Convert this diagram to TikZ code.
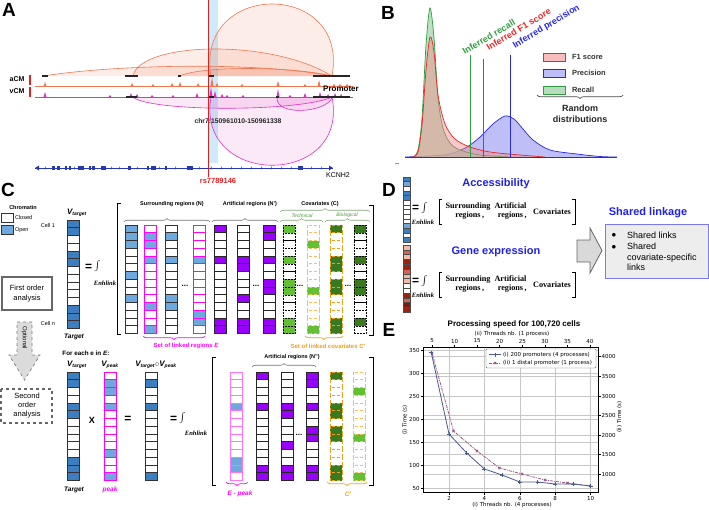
\documentclass[tikz,border=0pt]{standalone}
\usepackage{fontspec}
\setmainfont{Liberation Sans}
\newfontfamily\lserif{Liberation Serif}
\newfontfamily\dvs{DejaVu Sans}
\usetikzlibrary{decorations.pathreplacing}
\definecolor{acm}{HTML}{F07850}
\definecolor{vcm}{HTML}{E030C0}
\definecolor{genebl}{HTML}{2838B0}
\definecolor{bandbl}{HTML}{CDEBFA}
\definecolor{snp}{HTML}{E02020}
\definecolor{recg}{HTML}{2E9E40}
\definecolor{f1r}{HTML}{E82828}
\definecolor{prb}{HTML}{2828E8}
\definecolor{openbl}{HTML}{6FA8DC}
\definecolor{tgtbl}{HTML}{3D7EC0}
\definecolor{magb}{HTML}{FF00FF}
\definecolor{purp}{HTML}{9900FF}
\definecolor{lgreen}{HTML}{62C032}
\definecolor{dgreen}{HTML}{3A7A1E}
\definecolor{orng}{HTML}{F0A020}
\definecolor{yorng}{HTML}{F8C050}
\definecolor{capblue}{HTML}{2020E8}
\definecolor{seri}{HTML}{4A5A8C}
\definecolor{serii}{HTML}{9A5A8A}
\definecolor{covg}{HTML}{4A9A3A}
\definecolor{rd1}{HTML}{F2B8A8}
\definecolor{rd2}{HTML}{D86050}
\definecolor{rd3}{HTML}{A02010}
\definecolor{rd4}{HTML}{7A1A10}
\newcommand{\fs}[2]{\fontsize{#1}{#2}\selectfont}
\newcommand{\cellcol}[5]{%
  \foreach \v [count=\i from 0] in {#5} {%
    \ifnum\v=1 \def\fc{#4}\else\def\fc{white}\fi
    \draw[#3, fill=\fc] (#1,{#2+\i*7.75}) rectangle ++(12,7.75);
  }}
\tikzset{
 lbl/.style={font=\fs{19}{19}\bfseries},
 gcol/.style={draw=black!80, line width=0.55pt},
 mcol/.style={draw=magb, line width=0.9pt},
 lmcol/.style={draw=magb!55, line width=0.9pt},
 pcol/.style={draw=black!85, line width=0.55pt},
 dcol/.style={draw=black, densely dotted, line width=0.5pt},
 ocol/.style={draw=orng, densely dashed, line width=0.7pt},
 ycol/.style={draw=yorng, densely dashed, line width=0.7pt},
 brup/.style={decorate, decoration={brace, amplitude=3.5pt}, line width=0.6pt},
 brdn/.style={decorate, decoration={brace, mirror, amplitude=3.5pt}, line width=0.7pt},
 gridc/.style={draw=black!22, line width=0.5pt},
 arcfa/.style={fill=acm, fill opacity=0.13},
 arcfv/.style={fill=vcm, fill opacity=0.10},
 hdr/.style={font=\fs{5.5}{6}\bfseries},
 small/.style={font=\fs{5.5}{6}},
 enh/.style={font=\lserif\fs{6.5}{7}\bfseries\itshape},
 eqint/.style={font=\fs{12}{12}\bfseries},
 chart/.style={font=\dvs\fs{5.5}{6}},
 dtxt/.style={font=\lserif\fs{8.2}{9}\bfseries, align=center},
 infl/.style={font=\fs{9}{9}\bfseries, rotate=31, anchor=south west},
}
\begin{document}
\begin{tikzpicture}[x=1pt,y=-1pt,every node/.style={inner sep=0pt,outer sep=0pt}]
\useasboundingbox (0,0) rectangle (709,509);
\fill[white] (0,0) rectangle (709,509);

%%%%%%%%%%%%%%%% Panel A
\node[lbl] (labA) at (9,10) {A};
\fill[bandbl] (209,0) rectangle (218,163);
% aCM arcs (up)
\path[arcfa] (43,76) .. controls (120,64) and (260,62) .. (332,76) -- cycle;
\draw[acm, line width=0.6pt] (43,76) .. controls (120,64) and (260,62) .. (332,76);
\path[arcfa] (133,76) .. controls (140,42) and (270,38) .. (332,76) -- cycle;
\draw[acm, line width=0.6pt] (133,76) .. controls (140,42) and (270,38) .. (332,76);
\path[arcfa] (180,76) .. controls (200,66) and (290,66) .. (332,76) -- cycle;
\draw[acm, line width=0.6pt] (180,76) .. controls (200,66) and (290,66) .. (332,76);
\path[arcfa] (211,76) .. controls (195,-20) and (350,-20) .. (332,76) -- cycle;
\draw[acm, line width=0.6pt] (211,76) .. controls (195,-20) and (350,-20) .. (332,76);
% vCM arcs (down)
\path[arcfv] (133,97) .. controls (150,112) and (300,112) .. (332,97) -- cycle;
\draw[vcm, line width=0.6pt] (133,97) .. controls (150,112) and (300,112) .. (332,97);
\path[arcfv] (277,98) .. controls (276,116) and (325,113) .. (332,98) -- cycle;
\draw[vcm, line width=0.6pt] (277,98) .. controls (276,116) and (325,113) .. (332,98);
\path[arcfv] (211,97) .. controls (195,188) and (350,188) .. (332,97) -- cycle;
\draw[vcm, line width=0.6pt] (211,97) .. controls (195,188) and (350,188) .. (332,97);
% tracks
\draw[acm, line width=0.6pt] (35,86) -- (353,86);
\foreach \px/\ph in {45/4,132/3,153/2,172/3,180/4,198/3,212/9,217/3,242/2,278/5,305/2,319/6,334/2,340/2,347/2}
  \fill[acm] (\px-1.5,86) -- (\px,86-\ph) -- (\px+1.5,86) -- cycle;
\draw[vcm, line width=0.6pt] (35,97) -- (353,97);
\foreach \px/\ph in {45/5,110/2,131/4,137/3,152/2,173/2,197/4,211/10,215/6,222/3,227/2,243/2,278/8,290/2,305/4,320/5,328/3,335/4,341/3}
  \fill[vcm] (\px-1.5,97) -- (\px,97-\ph) -- (\px+1.5,97) -- cycle;
\foreach \a/\b in {42/48,125/138,178/181,209/214,313/350}
  \draw[black!85, line width=2pt] (\a,76) -- (\b,76);
\foreach \a/\b in {126/137,208/214,276/279,313/350}
  \draw[black!85, line width=2pt] (\a,97) -- (\b,97);
\draw[snp, line width=2pt] (30,75) -- (30,85);
\draw[snp, line width=2pt] (30,87) -- (30,97);
\node[font=\fs{7}{7}\bfseries] (acmL) at (17,79) {aCM};
\node[font=\fs{7}{7}\bfseries] (vcmL) at (17,91) {vCM};
\node[font=\fs{8}{8}\bfseries] (prom) at (341,89) {Promoter};
\node[font=\fs{6.8}{7}\bfseries, text=black!85] (chr) at (238,121) {chr7:150961010-150961338};
% gene track
\draw[genebl, line width=0.8pt] (35,168) -- (333,168);
\foreach \a/\b in {52/55,57/60,65/67,69/71,78/84,89/91,92/95,101/106,128/131,147/149,151/156,165/167,187/193,298/303}
  \fill[genebl] (\a,166) rectangle (\b,170);
\fill[genebl] (35,168) -- (39,165.5) -- (39,170.5) -- cycle;
\fill[genebl] (333,168) -- (329,165.5) -- (329,170.5) -- cycle;
\foreach \x in {46,75,112,120,138,160,176,200,212,222,232,242,252,262,272,282,292,312,322}
  \draw[genebl, line width=0.4pt] (\x-1,166.6) -- (\x,168) -- (\x-1,169.4);
\node[font=\fs{7}{7}] (kcnh) at (338,175) {KCNH2};
\draw[black!40, line width=0.5pt] (395,163) -- (399,163);
\draw[snp, line width=0.8pt] (208.3,0) -- (208.3,177);
\node[font=\fs{7.5}{7.5}\bfseries, text=snp] (rs) at (218,181) {rs7789146};

%%%%%%%%%%%%%%%% Panel B
\node[lbl] (labB) at (388,13) {B};
\filldraw[draw=prb, line width=0.7pt, fill=prb!35, fill opacity=0.85] plot[smooth] coordinates {(405,157) (430,156) (450,154) (467,147) (480,137) (493,124) (505,116) (514,119) (523,129) (533,140) (550,150) (577,154) (600,156.5) (617,157)};
\filldraw[draw=recg, line width=0.7pt, fill=recg!45, fill opacity=0.7] plot[smooth] coordinates {(413,157) (418,150) (422,118) (426,45) (430,8) (434,38) (438,98) (443,128) (450,143) (460,150) (480,155) (510,157)};
\filldraw[draw=f1r, line width=0.7pt, fill=f1r!55, fill opacity=0.45] plot[smooth] coordinates {(413,157) (418,152) (422,125) (426,70) (430,37) (434,52) (438,95) (445,124) (455,139) (470,147) (490,152) (520,155) (545,157)};
\draw[prb, line width=0.8pt] (405,157) -- (617,157);
\draw[recg, line width=1pt] (470,55) -- (470,157);
\draw[f1r, line width=1pt] (483,59) -- (483,157);
\draw[prb, line width=1pt] (510,55) -- (510,157);
\node[infl, text=recg] (infr) at (465,55) {Inferred recall};
\node[infl, text=f1r] (inff) at (489,51) {Inferred F1 score};
\node[infl, text=prb] (infp) at (516,50) {Inferred precision};
\filldraw[draw=f1r, fill=f1r!30, line width=0.6pt] (543,53) rectangle (565,61);
\filldraw[draw=prb, fill=prb!30, line width=0.6pt] (543,69) rectangle (565,77);
\filldraw[draw=recg, fill=recg!35, line width=0.6pt] (543,86) rectangle (565,94);
\node[font=\fs{7.5}{7.5}\bfseries, text=black!80, anchor=west] (lgf) at (572,57) {F1 score};
\node[font=\fs{7.5}{7.5}\bfseries, text=black!80, anchor=west] (lgp) at (572,73) {Precision};
\node[font=\fs{7.5}{7.5}\bfseries, text=black!80, anchor=west] (lgr) at (572,90) {Recall};
\draw[brdn, black!70] (537,95) -- (623,95);
\node[font=\fs{9}{10.5}\bfseries, align=center, text=black!85] (rnd) at (580,114) {Random\\distributions};

%%%%%%%%%%%%%%%% Panel C
\node[lbl] (labC) at (8,190) {C};
\node[font=\fs{5.5}{6}\bfseries] (chrom) at (23,208) {Chromatin};
\draw[black!80, fill=white, line width=0.6pt] (1,213) rectangle (13,222);
\draw[black!80, fill=openbl, line width=0.6pt] (1,225) rectangle (13,234);
\node[small, anchor=west] (clsd) at (15,218) {Closed};
\node[small, anchor=west] (opn) at (15,230) {Open};
\draw[black!60, line width=1.2pt] (2,277) rectangle (52,310);
\node[font=\fs{7.5}{10}, align=center] (fo) at (27,293.5) {First order\\analysis};
\filldraw[black!50, fill=black!14, dashed, line width=0.7pt] (17,322) -- (32,322) -- (32,355) -- (40,355) -- (24.5,380) -- (9,355) -- (17,355) -- cycle;
\node[font=\fs{6}{6}, rotate=-90] (optn) at (24.5,338) {Optional};
\draw[black!60, dashed, line width=1.2pt] (1,389) rectangle (52,423);
\node[font=\fs{7.5}{9}, align=center] (so) at (27,406) {Second\\order\\analysis};

% top section
\node[font=\fs{8}{8}\bfseries\itshape] (vt1) at (77,213) {V\textsubscript{\fs{5}{5}target}};
\node[small] (c1) at (48,226) {Cell 1};
\node[small] (cn) at (48,324) {Cell n};
\cellcol{67}{220}{gcol}{tgtbl}{1,1,0,0,1,1,0,0,0,0,0,1,1,1}
\node[font=\fs{6.5}{6.5}\bfseries\itshape] (tg1) at (74,337) {Target};
\node[eqint] (eq1) at (93,266) {=\,{\fs{16}{16}$\int$}};
\node[enh] (en1) at (105,283) {Enhlink};
\draw[line width=1pt] (121,203) -- (117,203) -- (117,334) -- (121,334);
\draw[line width=1pt] (369,205) -- (373,205) -- (373,335) -- (369,335);
\node[hdr] (hs) at (172,204) {Surrounding regions (N)};
\node[hdr] (ha) at (250,204) {Artificial regions (N')};
\node[hdr] (hc) at (320,204) {Covariates (C)};
\draw[brup, black!55] (124,222) -- (210,222);
\draw[brup, black!55] (212,222) -- (278,222);
\draw[brup, covg!70!black!60] (280,212) -- (370,212);
\draw[brup, covg!70!black!60] (280,222) -- (323,222);
\draw[brup, covg!70!black!60] (325,222) -- (370,222);
\node[font=\fs{5}{5}\itshape, text=covg] (tech) at (302,215.5) {Technical};
\node[font=\fs{5}{5}\itshape, text=covg] (bio) at (347,215.5) {Biological};
\cellcol{125}{225}{gcol}{openbl}{1,1,1,0,0,0,1,0,0,1,0,0,0,0}
\cellcol{144}{225}{mcol}{openbl}{0,1,1,0,1,0,0,0,0,0,1,0,0,1}
\cellcol{165}{225}{gcol}{openbl}{0,1,0,0,1,0,0,0,0,1,1,0,0,0}
\cellcol{193}{225}{mcol}{openbl}{0,0,0,0,1,0,0,0,0,0,0,1,1,0}
\cellcol{214}{225}{pcol}{purp}{1,0,0,0,1,0,0,0,0,0,0,0,1,1}
\cellcol{237}{225}{pcol}{purp}{0,0,0,0,1,1,0,0,0,1,0,0,1,1}
\cellcol{263}{225}{pcol}{purp}{1,1,0,0,1,0,0,1,1,0,0,0,1,1}
\cellcol{283}{225}{dcol}{lgreen}{1,0,0,0,1,0,0,1,1,0,0,0,1,1}
\cellcol{307}{225}{ycol}{lgreen}{0,0,1,0,0,0,0,0,1,0,0,0,0,1}
\cellcol{330}{225}{ocol}{dgreen}{1,0,0,0,1,1,0,1,1,0,0,0,1,1}
\cellcol{354}{225}{dcol}{dgreen}{1,0,0,0,1,0,0,1,1,0,0,0,1,0}
\foreach \dx [count=\k] in {185,256,300,348} \node[font=\fs{8}{8}\bfseries] (dots\k) at (\dx,286) {...};
\draw[brdn, magb] (143,336) -- (205,336);
\node[font=\fs{6}{6}\bfseries, text=magb] (sler) at (186,346) {Set of linked regions \textit{E}};
\draw[brdn, orng] (305,336) -- (343,336);
\node[font=\fs{6}{6}\bfseries, text=orng] (slcv) at (328,346) {Set of linked covariates \textit{C'}};

% bottom section
\node[font=\fs{6.3}{6.3}\bfseries] (fe) at (86,353.5) {For each e in \textit{E}:};
\node[font=\fs{8}{8}\bfseries\itshape] (vt2) at (77,365) {V\textsubscript{\fs{5}{5}target}};
\node[font=\fs{8}{8}\bfseries\itshape] (vp2) at (110,365) {V\textsubscript{\fs{5}{5}peak}};
\node[font=\fs{8}{8}\bfseries\itshape] (vtp) at (156,365) {V\textsubscript{\fs{5}{5}target}$\circ$V\textsubscript{\fs{5}{5}peak}};
\cellcol{67}{372}{gcol}{tgtbl}{1,1,0,0,1,1,0,0,0,0,0,1,1,1}
\cellcol{104}{372}{mcol}{openbl}{0,1,1,0,1,0,0,0,0,0,1,0,0,1}
\cellcol{145}{372}{gcol}{tgtbl}{0,1,0,0,1,0,0,0,0,0,0,0,0,1}
\node[font=\fs{9}{9}\bfseries] (xx) at (92,420) {X};
\node[font=\fs{12}{12}\bfseries] (eqb) at (128,419) {=};
\node[eqint] (eq2) at (178,418) {=\,{\fs{16}{16}$\int$}};
\node[enh] (en2) at (196,433) {Enhlink};
\node[font=\fs{6.5}{6.5}\bfseries\itshape] (tg2) at (74,490) {Target};
\node[font=\fs{6.5}{6.5}\bfseries\itshape, text=magb] (pk2) at (110,490) {peak};
\draw[line width=1pt] (216,357) -- (212,357) -- (212,485) -- (216,485);
\draw[line width=1pt] (369,357) -- (373,357) -- (373,485) -- (369,485);
\node[hdr] (ha2) at (292,357) {Artificial regions (N'')};
\draw[brup, black!55] (252,367) -- (316,367);
\cellcol{230}{372}{lmcol}{openbl}{0,0,0,0,1,0,0,0,0,0,0,1,1,0}
\cellcol{256}{372}{pcol}{purp}{1,0,0,0,1,0,0,0,0,0,0,0,1,1}
\cellcol{281}{372}{pcol}{purp}{0,0,0,0,1,1,0,0,0,1,0,0,1,1}
\cellcol{306}{372}{pcol}{purp}{1,1,0,0,1,0,0,1,1,0,0,0,1,1}
\cellcol{330}{372}{ocol}{dgreen}{1,0,0,0,1,1,0,1,1,0,0,0,1,1}
\cellcol{353}{372}{ycol}{lgreen}{0,0,1,0,0,0,0,0,1,0,0,0,0,1}
\node[font=\fs{8}{8}\bfseries] (dots5) at (299,435) {...};
\draw[brdn, magb] (226,482) -- (248,482);
\node[font=\fs{6.5}{6.5}\bfseries\itshape, text=magb] (ep) at (240,494) {E - peak};
\draw[brdn, orng] (327,482) -- (367,482);
\node[font=\fs{6.5}{6.5}\bfseries\itshape, text=orng] (cp) at (348,494) {C'};

%%%%%%%%%%%%%%%% Panel D
\node[lbl] (labD) at (389,190) {D};
\foreach \c [count=\i from 0] in {tgtbl,openbl,white,tgtbl,tgtbl,white,white,white,white,white,openbl,tgtbl,white,tgtbl}
  \draw[black!70, fill=\c, line width=0.3pt] (403,{177+\i*4.64}) rectangle ++(7,4.64);
\foreach \c [count=\i from 0] in {rd1,rd2,rd1,rd3,rd3,rd2,rd1,rd1,white,white,rd3,rd2,rd4,rd3}
  \draw[black!70, fill=\c, line width=0.3pt] (403,{245+\i*4.79}) rectangle ++(7,4.79);
\foreach \dy [count=\k] in {0,73} {
  \node[eqint] (deq\k) at (420,{208+\dy}) {=\,{\fs{15}{15}$\int$}};
  \node[enh] (den\k) at (423,{222+\dy}) {Enhlink};
  \draw[line width=0.8pt] (442,{199+\dy}) -- (439,{199+\dy}) -- (439,{224+\dy}) -- (442,{224+\dy});
  \draw[line width=0.8pt] (572,{199+\dy}) -- (575,{199+\dy}) -- (575,{224+\dy}) -- (572,{224+\dy});
  \node[dtxt] (dsr\k) at (468,{211.5+\dy}) {Surrounding\\regions\rlap{\,,}};
  \node[dtxt] (dar\k) at (510.5,{211.5+\dy}) {Artificial\\regions\rlap{\,,}};
  \node[dtxt] (dcv\k) at (552,{212+\dy}) {Covariates};
}
\node[font=\fs{11}{11}\bfseries, text=capblue] (acc) at (496,184) {Accessibility};
\node[font=\fs{11}{11}\bfseries, text=capblue] (gex) at (496,252) {Gene expression};
\filldraw[draw=black!60, fill=black!15, line width=0.8pt] (577,240) -- (590,240) -- (590,228) -- (602,250.5) -- (590,273) -- (590,262) -- (577,262) -- cycle;
\node[font=\fs{11}{11}\bfseries, text=capblue] (shl) at (648,213) {Shared linkage};
\filldraw[draw=capblue!60, fill=black!7, line width=0.9pt] (605,224) rectangle (708,278);
\node[font=\fs{9}{9}] (b1) at (614,235) {$\bullet$};
\node[font=\fs{9}{9}] (b2) at (614,247) {$\bullet$};
\node[font=\fs{9}{9}, anchor=west] (sl1) at (627,235) {Shared links};
\node[font=\fs{9}{10.7}, anchor=north west, align=left] (sl2) at (627,243) {Shared\\covariate-specific\\links};

%%%%%%%%%%%%%%%% Panel E
\node[lbl] (labE) at (389,330) {E};
\node[font=\fs{8}{8}\bfseries] (ptitle) at (514,324) {Processing speed for 100,720 cells};
\foreach \yy in {350,373,396,419,442,465,488} \draw[gridc] (423,\yy) -- (598,\yy);
\foreach \yy in {356,376,396,415,435,454.5,474} \draw[gridc] (423,\yy) -- (598,\yy);
\foreach \xx in {449,484.4,519.8,555.2,590.6} \draw[gridc] (\xx,347) -- (\xx,492);
\draw[black, line width=0.6pt] (423,347) rectangle (598,492);
\foreach \yy/\lab in {350/350,373/300,396/250,419/200,442/150,465/100,488/50} {
  \draw[line width=0.5pt] (423,\yy) -- (420.5,\yy);
  \node[chart, anchor=east] (yl\lab) at (419.5,\yy) {\lab};
}
\foreach \yy/\lab in {356/4000,376/3500,396/3000,415/2500,435/2000,454.5/1500,474/1000} {
  \draw[line width=0.5pt] (598,\yy) -- (600.5,\yy);
  \node[chart, anchor=west] (yr\lab) at (601.5,\yy) {\lab};
}
\foreach \v in {2,4,6,8,10} {
  \pgfmathsetmacro\xx{449+(\v-2)*17.7}
  \draw[line width=0.5pt] (\xx,492) -- (\xx,494.5);
  \node[chart] (xb\v) at (\xx,498.5) {\v};
}
\foreach \v in {5,10,...,40} {
  \pgfmathsetmacro\xx{432+(\v-5)*4.514}
  \draw[line width=0.5pt] (\xx,347) -- (\xx,344.5);
  \node[chart] (xt\v) at (\xx,341) {\v};
}
\node[chart] (xtl) at (512,334) {(ii) Threads nb. (1 process)};
\node[chart] (xbl) at (512,505) {(i) Threads nb. (4 processes)};
\node[chart, rotate=90] (yll) at (405,420) {(i) Time (s)};
\node[chart, rotate=90] (yrl) at (619.5,417) {(ii) Time (s)};
\draw[serii, line width=0.8pt, dash pattern=on 3pt off 1pt on 1pt off 1pt] plot[mark=x, mark size=1.6pt, mark options={solid}] coordinates {(432,353) (453.5,431) (477,451) (499.5,468) (522,474) (545,480) (567.5,483) (590,486)};
\draw[seri, line width=0.8pt] plot[mark=+, mark size=2pt] coordinates {(431.3,352.7) (449,434) (466.7,453) (484.4,469) (502.1,475) (519.8,482) (537.5,482) (555.2,484) (572.9,484) (590.6,486)};
\draw[black!60, fill=white, rounded corners=1pt, line width=0.4pt] (486,349) rectangle (596,368);
\draw[seri, line width=0.8pt] (489,354.5) -- (501,354.5);
\draw[seri, line width=0.8pt] plot[only marks, mark=+, mark size=2pt] coordinates {(495,354.5)};
\draw[serii, line width=0.8pt, dash pattern=on 3pt off 1pt on 1pt off 1pt] (489,363) -- (501,363);
\draw[serii, line width=0.8pt] plot[only marks, mark=x, mark size=1.6pt] coordinates {(495,363)};
\node[chart, anchor=west] (lg1) at (503,354.5) {(i) 200 promoters (4 processes)};
\node[chart, anchor=west] (lg2) at (503,363) {(ii) 1 distal promoter (1 process)};
\end{tikzpicture}
\end{document}
